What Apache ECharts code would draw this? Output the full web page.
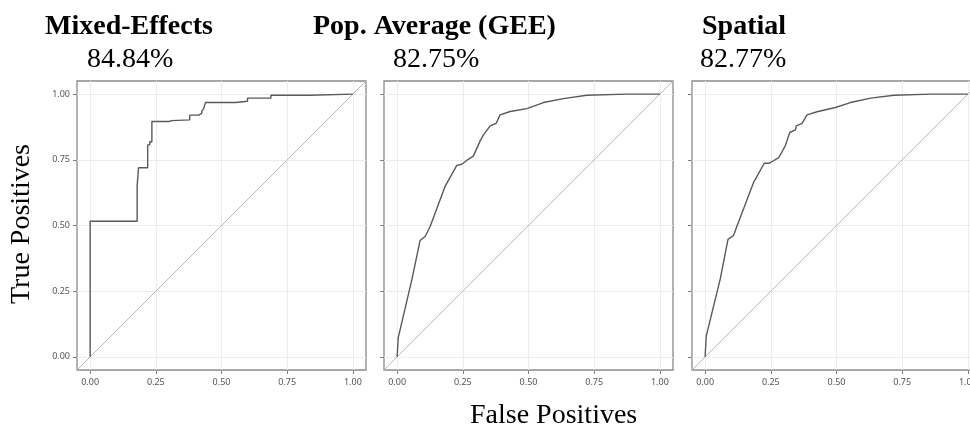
<!DOCTYPE html>
<html>
<head>
<meta charset="utf-8">
<script src="https://cdn.jsdelivr.net/npm/echarts@6/dist/echarts.min.js"></script>
<style>html,body{margin:0;padding:0;background:#fff}#c{width:970px;height:433px}</style>
</head>
<body>
<div id="c"></div>
<script>
const panelTitles = ['Mixed-Effects', 'Pop. Average (GEE)', 'Spatial'];
const aucLabels = ['84.84%', '82.75%', '82.77%'];
const tickValues = [0, 0.25, 0.5, 0.75, 1];
const diagX = [-0.05, 1.05];
const diagY = [-0.05, 1.05];

const mixedFpr = [0, 0, 0.179, 0.179, 0.184, 0.184, 0.219, 0.219, 0.227, 0.227, 0.235, 0.235, 0.300, 0.300, 0.311, 0.311, 0.379, 0.379, 0.413, 0.413, 0.425, 0.425, 0.432, 0.432, 0.439, 0.439, 0.554, 0.554, 0.599, 0.599, 0.688, 0.688, 0.835, 0.835, 1.0];
const mixedTpr = [0, 0.516, 0.516, 0.65, 0.65, 0.72, 0.72, 0.807, 0.807, 0.819, 0.819, 0.896, 0.896, 0.899, 0.899, 0.902, 0.902, 0.92, 0.92, 0.927, 0.927, 0.935, 0.935, 0.945, 0.945, 0.968, 0.968, 0.973, 0.973, 0.985, 0.985, 0.996, 0.996, 1.0, 1.0];

const geeFpr = [0, 0.004, 0.056, 0.0875, 0.107, 0.126, 0.183, 0.227, 0.246, 0.271, 0.290, 0.316, 0.328, 0.354, 0.377, 0.392, 0.430, 0.494, 0.557, 0.633, 0.722, 0.874, 1.0];
const geeTpr = [0, 0.072, 0.294, 0.443, 0.459, 0.497, 0.650, 0.729, 0.733, 0.752, 0.764, 0.822, 0.844, 0.879, 0.889, 0.921, 0.934, 0.945, 0.968, 0.983, 0.996, 1.0, 1.0];

const spatialFpr = [0, 0.004, 0.057, 0.087, 0.108, 0.121, 0.184, 0.225, 0.244, 0.280, 0.305, 0.322, 0.344, 0.347, 0.369, 0.388, 0.426, 0.496, 0.553, 0.630, 0.719, 0.859, 1.0];
const spatialTpr = [0, 0.078, 0.294, 0.447, 0.462, 0.497, 0.663, 0.737, 0.737, 0.758, 0.803, 0.854, 0.864, 0.879, 0.889, 0.921, 0.933, 0.949, 0.968, 0.985, 0.996, 1.0, 1.0];

const curves = [[mixedFpr, mixedTpr], [geeFpr, geeTpr], [spatialFpr, spatialTpr]];
const zip = (a, b) => a.map((v, i) => [v, b[i]]);

const gridLefts = [77, 384, 692];
const titleLefts = [40, 308, 697];
const aucLefts = [82, 388, 695];

const grids = [], xAxes = [], yAxes = [], series = [], titles = [];
const axisCommon = {
  type: 'value', min: -0.05, max: 1.05,
  axisLine: { show: false, onZero: false },
  axisTick: { show: true, inside: false, length: 4, lineStyle: { color: '#7f7f7f', width: 1 }, customValues: tickValues },
  splitLine: { show: true, lineStyle: { color: '#ececec', width: 1 } }
};
for (let i = 0; i < 3; i++) {
  grids.push({ left: gridLefts[i], top: 81, width: 289, height: 289, show: true, borderColor: '#8a8a8a', borderWidth: 1.3, backgroundColor: '#fff', outerBoundsMode: 'none', containLabel: false });
  xAxes.push(Object.assign({}, axisCommon, {
    gridIndex: i, position: 'bottom',
    axisLabel: { show: true, customValues: tickValues, margin: 8, fontFamily: 'Noto Sans', fontSize: 9, color: '#555', formatter: v => v.toFixed(2) }
  }));
  yAxes.push(Object.assign({}, axisCommon, {
    gridIndex: i, position: 'left',
    axisLabel: { show: i === 0, customValues: tickValues, margin: 7, fontFamily: 'Noto Sans', fontSize: 9, color: '#555', formatter: v => v.toFixed(2) }
  }));
  series.push({
    type: 'line', xAxisIndex: i, yAxisIndex: i, data: zip(diagX, diagY), symbol: 'none',
    lineStyle: { color: '#b8b8b8', width: 1 }, silent: true, animation: false
  });
  series.push({
    type: 'line', xAxisIndex: i, yAxisIndex: i, data: zip(curves[i][0], curves[i][1]), symbol: 'none',
    lineStyle: { color: '#595959', width: 1.4 }, silent: true, animation: false
  });
  titles.push({ text: panelTitles[i], left: titleLefts[i], top: 8, textStyle: { fontFamily: 'Liberation Serif', fontWeight: 'bold', fontSize: 28, color: '#000' } });
  titles.push({ text: aucLabels[i], left: aucLefts[i], top: 41, textStyle: { fontFamily: 'Liberation Serif', fontWeight: 'normal', fontSize: 28, color: '#000' } });
}
titles.push({ text: 'False Positives', left: 465, top: 397, textStyle: { fontFamily: 'Liberation Serif', fontWeight: 'normal', fontSize: 28, color: '#000' } });

const chart = echarts.init(document.getElementById('c'), null, { renderer: 'canvas' });
chart.setOption({
  animation: false,
  backgroundColor: '#fff',
  title: titles,
  grid: grids,
  xAxis: xAxes,
  yAxis: yAxes,
  series: series,
  graphic: [{
    type: 'text', x: 22, y: 224, rotation: Math.PI / 2,
    style: { text: 'True Positives', font: '28px "Liberation Serif"', fill: '#000', align: 'center', verticalAlign: 'middle' }
  }]
});
</script>
</body>
</html>
